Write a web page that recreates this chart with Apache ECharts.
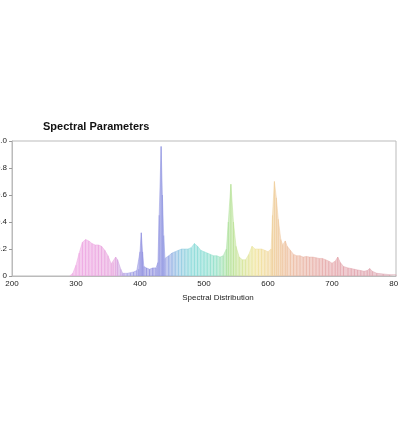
<!DOCTYPE html>
<html>
<head>
<meta charset="utf-8">
<script src="https://cdn.jsdelivr.net/npm/echarts@6/dist/echarts.min.js"></script>
<style>
  html, body { margin: 0; padding: 0; background: #fff; }
  #main { width: 398px; height: 423px; }
</style>
</head>
<body>
<div id="main"></div>
<script>
// wavelengths (nm) and relative intensity
var wavelengths = [290, 295, 300, 305, 310, 315, 320, 325, 330, 335, 340, 345, 350, 355, 358, 362, 365, 370, 373,
  375, 380, 385, 390, 395, 398, 400, 402, 404, 406, 410, 415, 420, 425, 428, 430, 433, 435, 437, 439,
  445, 450, 455, 460, 465, 470, 475, 480, 485, 490, 495, 500, 505, 510, 515, 520, 525, 530, 535, 538,
  542, 546, 550, 555, 560, 565, 570, 575, 580, 585, 590, 595, 600, 605, 607, 610, 613, 616, 620, 623,
  627, 630, 635, 640, 645, 650, 655, 660, 665, 670, 675, 680, 685, 690, 695, 700, 705, 709, 713, 718,
  725, 730, 735, 740, 745, 750, 755, 759, 763, 770, 780, 790, 800];
var intensity = [0, 0.02, 0.08, 0.17, 0.25, 0.27, 0.26, 0.24, 0.23, 0.23, 0.22, 0.19, 0.15, 0.09, 0.10, 0.14, 0.12, 0.05, 0.02,
  0.02, 0.02, 0.025, 0.03, 0.04, 0.05, 0.18, 0.32, 0.18, 0.07, 0.06, 0.05, 0.06, 0.06, 0.10, 0.45, 0.96, 0.60, 0.30, 0.13,
  0.15, 0.17, 0.18, 0.19, 0.20, 0.20, 0.20, 0.21, 0.24, 0.22, 0.19, 0.18, 0.17, 0.16, 0.15, 0.15, 0.14, 0.15, 0.20, 0.40,
  0.68, 0.40, 0.22, 0.14, 0.12, 0.12, 0.16, 0.22, 0.20, 0.20, 0.20, 0.19, 0.18, 0.20, 0.45, 0.70, 0.58, 0.42, 0.27, 0.23,
  0.26, 0.22, 0.19, 0.16, 0.15, 0.15, 0.14, 0.145, 0.14, 0.14, 0.135, 0.13, 0.13, 0.12, 0.11, 0.095, 0.11, 0.14, 0.10, 0.07,
  0.06, 0.055, 0.05, 0.045, 0.04, 0.035, 0.04, 0.055, 0.035, 0.02, 0.015, 0.01, 0.01];
var xTicks = [200, 300, 400, 500, 600, 700, 800];
var yTicks = [0, 0.2, 0.4, 0.6, 0.8, 1.0];

// spectrum colours, 280nm .. 800nm every 20nm
var spectrumColors = ['#f0a8e6', '#eea4e2', '#eca2e0', '#eaa2de', '#e6a2dc', '#a4a0e6', '#9090e0', '#8c8cde',
  '#9098e2', '#90c4e2', '#86d8d8', '#86dcd2', '#90e0c4', '#b0e094', '#d4e496', '#f0e49a', '#f0d69a',
  '#eec49a', '#ecbaa0', '#e8b2a4', '#e6aaa6', '#e4a4a8', '#e2a2aa', '#e0a2ac', '#dea2ac', '#dca4b0', '#daa6b0'];

var spectrum = [];
for (var i = 0; i < wavelengths.length; i++) {
  spectrum.push([wavelengths[i], intensity[i]]);
}

var myChart = echarts.init(document.getElementById('main'));
var option = {
  backgroundColor: '#fff',
  title: {
    text: 'Spectral Parameters',
    left: 43,
    top: 121,
    padding: 0,
    textStyle: { fontFamily: 'Liberation Sans', fontSize: 11, fontWeight: 'bold', color: '#111' }
  },
  grid: {
    left: 12, right: 2, top: 141, bottom: 147,
    outerBoundsMode: 'none',
    containLabel: false,
    show: true, borderColor: '#bbb', borderWidth: 1
  },
  visualMap: {
    show: false,
    type: 'continuous',
    dimension: 0,
    min: 280,
    max: 800,
    inRange: { color: spectrumColors }
  },
  xAxis: {
    type: 'value',
    min: xTicks[0],
    max: xTicks[xTicks.length - 1],
    interval: 100,
    name: 'Spectral Distribution',
    nameLocation: 'middle',
    nameGap: 18,
    nameTextStyle: { fontFamily: 'Liberation Sans', fontSize: 8, color: '#222', padding: [0, 0, 0, 28] },
    axisLine: { lineStyle: { color: '#bbb' } },
    axisTick: { show: false },
    splitLine: { show: false },
    axisLabel: { fontFamily: 'Liberation Sans', fontSize: 8, color: '#222', margin: 4 }
  },
  yAxis: {
    type: 'value',
    min: yTicks[0],
    max: yTicks[yTicks.length - 1],
    interval: 0.2,
    axisLine: { show: true, lineStyle: { color: '#bbb' } },
    axisTick: { show: true, length: 3, lineStyle: { color: '#999' } },
    splitLine: { show: false },
    axisLabel: {
      fontFamily: 'Liberation Sans', fontSize: 8, color: '#222', margin: 5,
      formatter: function (v) { return v === 0 ? '0' : v.toFixed(1); }
    }
  },
  series: [{
    type: 'line',
    data: spectrum,
    symbol: 'none',
    silent: true,
    lineStyle: { width: 0.6, opacity: 0.8 },
    areaStyle: { opacity: 0.55 }
  }, {
    type: 'bar',
    data: spectrum,
    barWidth: 1,
    silent: true,
    itemStyle: { opacity: 0.8 }
  }]
};

myChart.setOption(option);
</script>
</body>
</html>
